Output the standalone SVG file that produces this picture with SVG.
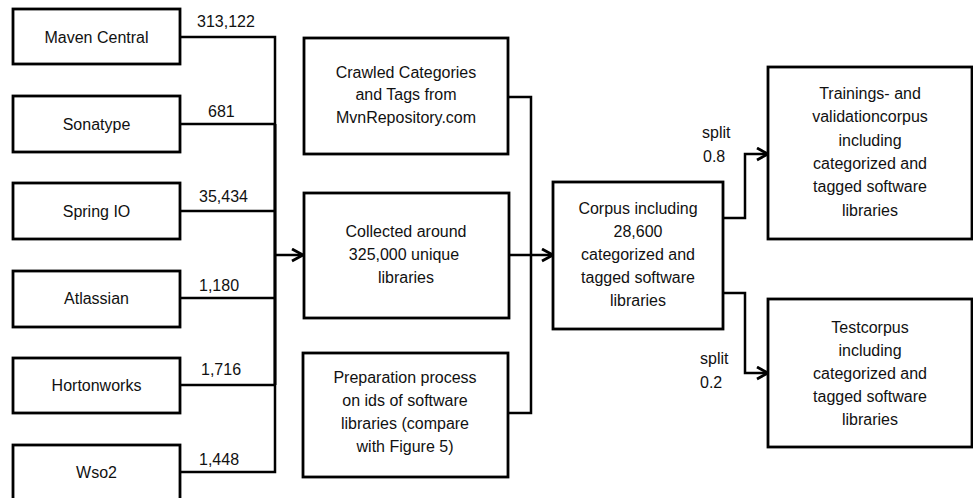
<svg xmlns="http://www.w3.org/2000/svg" width="973" height="498" viewBox="0 0 973 498">
<style>
  .box{fill:#fff;stroke:#000;stroke-width:2.8}
  .t{font-family:"Liberation Sans",Arial,sans-serif;font-size:16px;fill:#111;text-anchor:middle}
  .l{font-family:"Liberation Sans",Arial,sans-serif;font-size:16px;fill:#111}
  .c{fill:none;stroke:#000;stroke-width:2.5}
</style>
<defs>
  <marker id="arr" markerUnits="userSpaceOnUse" markerWidth="14" markerHeight="16" refX="12" refY="7" orient="auto">
    <path d="M1,1 L12,7 L1,13" fill="none" stroke="#000" stroke-width="2.8"/>
  </marker>
</defs>
<rect width="973" height="498" fill="#fff"/>

<g id="connectors">
  <path class="c" d="M180,37 H275 V124"/>
  <path class="c" d="M180,124 H275"/>
  <path class="c" d="M180,211 H275"/>
  <path class="c" d="M180,298 H275"/>
  <path class="c" d="M180,385 H275"/>
  <path class="c" d="M180,472 H275 V385"/>
  <path class="c" style="stroke-width:3.2" d="M275,124 V385"/>
  <path class="c" d="M275,255 H303" marker-end="url(#arr)"/>
  <path class="c" d="M508,97 H531 V413 H508"/>
  <path class="c" d="M508,255 H553" marker-end="url(#arr)"/>
  <path class="c" d="M723,218 H745 V154 H768" marker-end="url(#arr)"/>
  <path class="c" d="M723,293 H745 V373 H768" marker-end="url(#arr)"/>
  <text class="l" x="197" y="27">313,122</text>
  <text class="l" x="208" y="117">681</text>
  <text class="l" x="199" y="202">35,434</text>
  <text class="l" x="199" y="291">1,180</text>
  <text class="l" x="201" y="375">1,716</text>
  <text class="l" x="199" y="465">1,448</text>
  <text class="l" x="702" y="138">split</text>
  <text class="l" x="703" y="162">0.8</text>
  <text class="l" x="700" y="364">split</text>
  <text class="l" x="700" y="388">0.2</text>
</g>

<g id="maven"><rect class="box" x="13" y="9" width="167" height="55"/><text class="t" x="96.5" y="42.5">Maven Central</text></g>
<g id="sonatype"><rect class="box" x="13" y="96" width="167" height="56"/><text class="t" x="96.5" y="129.5">Sonatype</text></g>
<g id="spring"><rect class="box" x="13" y="183" width="167" height="56"/><text class="t" x="96.5" y="216.5">Spring IO</text></g>
<g id="atlassian"><rect class="box" x="13" y="271" width="167" height="56"/><text class="t" x="96.5" y="303.5">Atlassian</text></g>
<g id="hortonworks"><rect class="box" x="13" y="358" width="167" height="55"/><text class="t" x="96.5" y="390.5">Hortonworks</text></g>
<g id="wso2"><rect class="box" x="13" y="445" width="167" height="70"/><text class="t" x="96.5" y="477.5">Wso2</text></g>

<g id="crawled"><rect class="box" x="304" y="38" width="204" height="116"/>
  <text class="t" x="406" y="77.5">Crawled Categories</text>
  <text class="t" x="406" y="100">and Tags from</text>
  <text class="t" x="406" y="123">MvnRepository.com</text></g>
<g id="collected"><rect class="box" x="304" y="193" width="205" height="125"/>
  <text class="t" x="406" y="236.5">Collected around</text>
  <text class="t" x="404" y="259.5">325,000 unique</text>
  <text class="t" x="406" y="282.5">libraries</text></g>
<g id="preparation"><rect class="box" x="303" y="353" width="205" height="124"/>
  <text class="t" x="405" y="382.5">Preparation process</text>
  <text class="t" x="405" y="405.5">on ids of software</text>
  <text class="t" x="405" y="428.5">libraries (compare</text>
  <text class="t" x="405" y="452">with Figure 5)</text></g>

<g id="corpus"><rect class="box" x="553" y="182" width="170" height="147"/>
  <text class="t" x="638" y="213.5">Corpus including</text>
  <text class="t" x="638" y="236.5">28,600</text>
  <text class="t" x="638" y="259.5">categorized and</text>
  <text class="t" x="638" y="282.5">tagged software</text>
  <text class="t" x="638" y="305.5">libraries</text></g>

<g id="training"><rect class="box" x="768" y="67" width="204" height="172"/>
  <text class="t" x="870" y="98.5">Trainings- and</text>
  <text class="t" x="870" y="122">validationcorpus</text>
  <text class="t" x="870" y="145.5">including</text>
  <text class="t" x="870" y="168.5">categorized and</text>
  <text class="t" x="870" y="192">tagged software</text>
  <text class="t" x="870" y="215.5">libraries</text></g>
<g id="test"><rect class="box" x="768" y="299" width="204" height="148"/>
  <text class="t" x="870" y="332.5">Testcorpus</text>
  <text class="t" x="870" y="355.5">including</text>
  <text class="t" x="870" y="378.5">categorized and</text>
  <text class="t" x="870" y="401.5">tagged software</text>
  <text class="t" x="870" y="425">libraries</text></g>
</svg>
